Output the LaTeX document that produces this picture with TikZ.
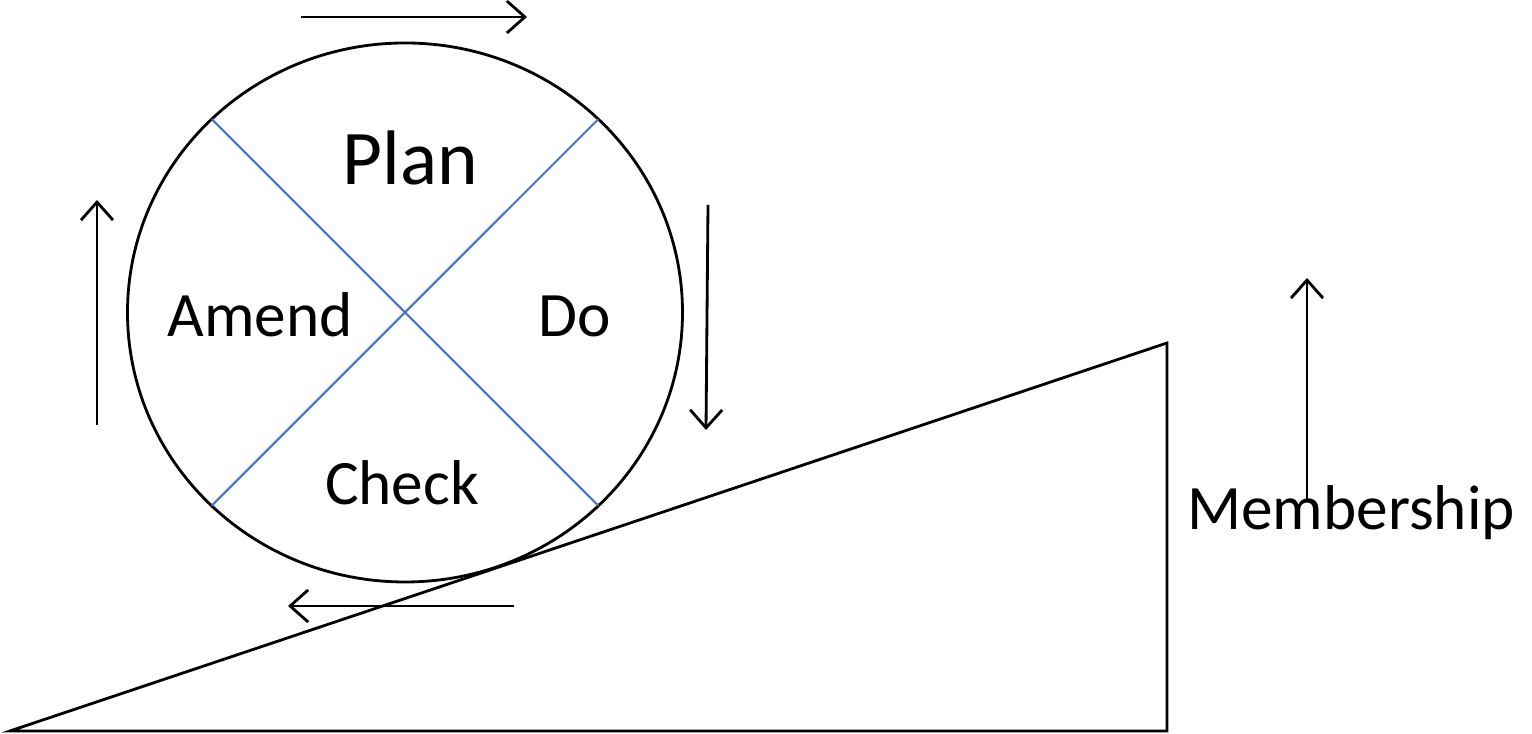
\documentclass[tikz,border=0pt]{standalone}
\usepackage{fontspec}
\setmainfont{Carlito}
\usetikzlibrary{shapes.geometric, arrows.meta}

\definecolor{spoke}{RGB}{68,114,196}

\begin{document}
\begin{tikzpicture}[> = {Straight Barb[length=1.8mm, width=3.2mm]}, line width=0.8pt,
    label/.style = {anchor=base, inner sep=0pt, font=\fontsize{18}{20}\selectfont},
    spokeline/.style = {draw=spoke, line width=0.6pt}]
    \useasboundingbox (0,0) rectangle (15.32,7.34);

    % the wheel
    \node[draw, ellipse, minimum width=5.55cm, minimum height=5.39cm, inner sep=0pt, outer sep=0pt] (wheel) at (4.05,4.215) {};
    \path[spokeline] (wheel.135) -- (wheel.-45)
    (wheel.45) -- (wheel.-135);

    \node[label, font=\fontsize{22}{25}\selectfont] (plan) at (4.10,5.49) {Plan};
    \node[label] (do) at (5.75,3.97) {Do};
    \node[label] (check) at (4.02,2.29) {Check};
    \node[label] (amend) at (2.60,3.97) {Amend};

    % the slope
    \coordinate (foot) at (0.10,0.03);
    \coordinate (base) at (11.67,0.03);
    \coordinate (peak) at (11.67,3.91);
    \draw[line join=miter] (foot) -- (base) -- (peak) -- cycle;

    \node[label] (members) at (13.51,2.04) {Membership};

    % turning arrows
    \coordinate (t0) at (3.01,7.17);
    \coordinate (t1) at (5.27,7.17);
    \coordinate (r0) at (7.08,5.29);
    \coordinate (r1) at (7.06,3.04);
    \coordinate (b0) at (5.14,1.28);
    \coordinate (b1) at (2.88,1.28);
    \coordinate (l0) at (0.97,3.09);
    \coordinate (l1) at (0.97,5.34);
    \coordinate (m0) at (13.07,2.34);
    \coordinate (m1) at (13.07,4.56);
    \draw[->] (t0) -- (t1);
    \draw[->] (r0) -- (r1);
    \draw[->] (b0) -- (b1);
    \draw[->] (l0) -- (l1);
    \draw[->] (m0) -- (m1);
\end{tikzpicture}
\end{document}
